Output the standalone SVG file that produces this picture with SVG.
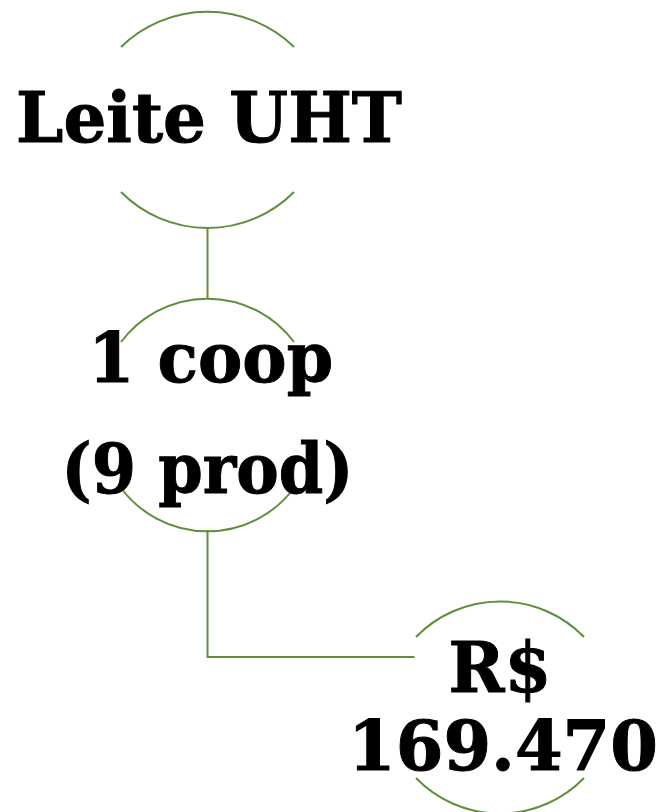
<svg xmlns="http://www.w3.org/2000/svg" width="664" height="812" viewBox="0 0 664 812">
<style>
.arc{fill:none;stroke:#5f8f3a;stroke-width:2}
.con{fill:none;stroke:#5f8f3a;stroke-width:2}
.t{font-family:"DejaVu Serif","Liberation Serif",serif;font-weight:bold;font-size:70px;fill:#000;text-anchor:middle;stroke:#000;stroke-width:1}
</style>
<rect width="664" height="812" fill="#fff"/>
<g id="connectors">
<path class="con" d="M207.5 228 V298"/>
<path class="con" d="M207.5 530 V657 H414.5"/>
</g>
<g id="node1">
<path class="arc" d="M121 47 A124 124 0 0 1 294 47"/>
<path class="arc" d="M121 192 A122 122 0 0 0 294 192"/>
<text class="t" x="209" y="142" textLength="386" lengthAdjust="spacingAndGlyphs">Leite UHT</text>
</g>
<g id="node2">
<path class="arc" d="M121 342 A108 108 0 0 1 294 342"/>
<path class="arc" d="M121 488 A108 108 0 0 0 294 488"/>
<text class="t" x="210.7" y="382.3" textLength="245" lengthAdjust="spacingAndGlyphs">1 coop</text>
<text class="t" x="207.5" y="493.3" textLength="292" lengthAdjust="spacingAndGlyphs">(9 prod)</text>
</g>
<g id="node3">
<path class="arc" d="M416 637 A117 117 0 0 1 584 637"/>
<path class="arc" d="M416 778 A117 117 0 0 0 584 778"/>
<text class="t" x="500" y="691.7" textLength="103" lengthAdjust="spacingAndGlyphs">R$</text>
<text class="t" x="503" y="770" textLength="310" lengthAdjust="spacingAndGlyphs">169.470</text>
</g>
</svg>
